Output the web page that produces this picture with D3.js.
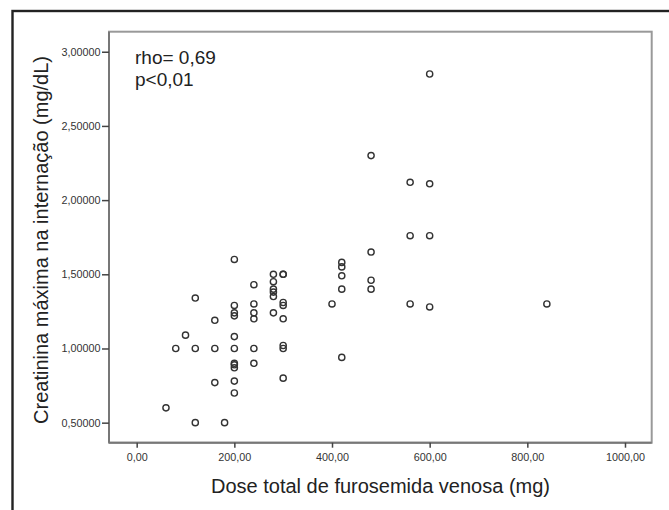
<!DOCTYPE html>
<html>
<head>
<meta charset="utf-8">
<script src="https://cdn.jsdelivr.net/npm/d3@7"></script>
<style>
  html, body { margin: 0; padding: 0; background: #fff; }
  svg { display: block; font-family: "Liberation Sans", Arial, sans-serif; }
</style>
</head>
<body>
<svg id="chart"></svg>
<script>
// dose total de furosemida (mg) e creatinina maxima (mg/dL)
const dose = [
  60, 120, 180, 80, 100, 120, 120, 160, 160, 160,
  200, 200, 200, 200, 200, 200, 200, 200, 200, 200, 200,
  240, 240, 240, 240, 240, 240,
  280, 280, 280, 280, 280, 280,
  300, 300, 300, 300, 300, 300, 300, 300,
  400, 420, 420, 420, 420, 420,
  480, 480, 480, 480,
  560, 560, 560,
  600, 600, 600, 600,
  840
];
const creatinina = [
  0.60, 0.50, 0.50, 1.00, 1.09, 1.00, 1.34, 1.00, 1.19, 0.77,
  1.60, 1.29, 1.24, 1.22, 1.08, 1.00, 0.90, 0.89, 0.87, 0.78, 0.70,
  1.43, 1.30, 1.24, 1.20, 1.00, 0.90,
  1.50, 1.45, 1.40, 1.38, 1.35, 1.24,
  1.50, 1.31, 1.29, 1.20, 1.02, 1.00, 0.80, 1.50,
  1.30, 1.58, 1.55, 1.49, 1.40, 0.94,
  2.30, 1.65, 1.46, 1.40,
  2.12, 1.76, 1.30,
  2.85, 2.11, 1.76, 1.28,
  1.30
];
const xTicks = [0, 200, 400, 600, 800, 1000];
const yTicks = [0.5, 1.0, 1.5, 2.0, 2.5, 3.0];
const statsText = ["rho= 0,69", "p<0,01"];

const W = 669, H = 510;
const plot = { left: 109, top: 31.7, right: 651.7, bottom: 442.7 };

const svg = d3.select("#chart").attr("width", W).attr("height", H);

// moldura preta externa
svg.append("rect")
  .attr("x", 12.5).attr("y", 11)
  .attr("width", 700).attr("height", 600)
  .attr("fill", "none")
  .attr("stroke", "#222")
  .attr("stroke-width", 2.4);

// escalas
const x = d3.scaleLinear()
  .domain([-56.7, 1054.7])
  .range([plot.left, plot.right]);

const y = d3.scaleLinear()
  .domain([0.365, 3.135])
  .range([plot.bottom, plot.top]);

const fmt = v => d3.format(".2f")(v).replace(".", ",");
const fmtY = v => d3.format(".5f")(v).replace(".", ",");

// area do grafico
svg.append("rect")
  .attr("x", plot.left).attr("y", plot.top)
  .attr("width", plot.right - plot.left)
  .attr("height", plot.bottom - plot.top)
  .attr("fill", "#fff")
  .attr("stroke", "#999")
  .attr("stroke-width", 2);

// eixos
const gx = svg.append("g")
  .attr("transform", `translate(0,${plot.bottom})`)
  .call(d3.axisBottom(x).tickValues(xTicks).tickFormat(fmt).tickSize(5).tickPadding(5.5));

const gy = svg.append("g")
  .attr("transform", `translate(${plot.left},0)`)
  .call(d3.axisLeft(y).tickValues(yTicks).tickFormat(fmtY).tickSize(7).tickPadding(1.5));

[gx, gy].forEach(g => {
  g.select(".domain").attr("stroke", "#777").attr("stroke-width", 2);
  g.selectAll(".tick line").attr("stroke", "#444").attr("stroke-width", 1.5);
  g.selectAll(".tick text")
    .attr("fill", "#333")
    .style("font-size", "10.8px")
    .style("font-family", "'Liberation Sans', Arial, sans-serif");
});
gx.select(".domain").attr("d", `M${plot.left},0H${plot.right}`);
gy.select(".domain").attr("d", `M0,${plot.top}V${plot.bottom}`);

// pontos
const pts = dose.map((d, i) => ({ dose: d, creat: creatinina[i] }));
svg.append("g")
  .selectAll("circle")
  .data(pts)
  .join("circle")
  .attr("cx", d => x(d.dose))
  .attr("cy", d => y(d.creat))
  .attr("r", 3.1)
  .attr("fill", "none")
  .attr("stroke", "#333")
  .attr("stroke-width", 1.4);

// texto rho / p
svg.append("g")
  .selectAll("text")
  .data(statsText)
  .join("text")
  .attr("x", 135)
  .attr("y", (d, i) => 64 + i * 22)
  .attr("fill", "#222")
  .style("font-size", "19px")
  .text(d => d);

// titulos dos eixos
svg.append("text")
  .attr("x", 380.5)
  .attr("y", 492.7)
  .attr("text-anchor", "middle")
  .attr("fill", "#222")
  .style("font-size", "20px")
  .text("Dose total de furosemida venosa (mg)");

svg.append("text")
  .attr("transform", "translate(48,240) rotate(-90)")
  .attr("text-anchor", "middle")
  .attr("fill", "#222")
  .style("font-size", "20px")
  .text("Creatinina máxima na internação (mg/dL)");
</script>
</body>
</html>
